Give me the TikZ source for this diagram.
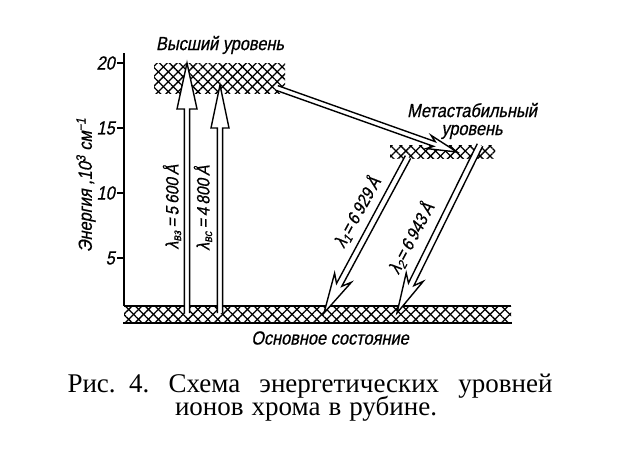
\documentclass[tikz,border=0pt]{standalone}
\usepackage{fontspec}
\setmainfont{Liberation Serif}
\newfontfamily\drawfont[FakeStretch=0.86,FakeSlant=0.2,FakeBold=0.6]{Liberation Sans}
\usetikzlibrary{calc,patterns.meta}

\tikzset{
  lvl/.style={font=\drawfont\fontsize{19}{20}\selectfont, inner sep=0pt},
  wave/.style={font=\drawfont\fontsize{18}{19}\selectfont, inner sep=0pt},
  capt/.style={font=\fontsize{27}{27}\selectfont, inner sep=0pt, anchor=base},
  hatchA/.style={pattern={Lines[angle=45,distance=7pt,line width=1.3pt]}},
  hatchB/.style={pattern={Lines[angle=-45,distance=7pt,line width=1.3pt]}},
  outline/.style={line width=1.4pt, line join=miter},
}

% hollow arrow: start, tip, head length, head half width, shaft half width, notch
\newcommand\hollowarrow[6]{%
  \coordinate (hb) at ($(#2)!#3!(#1)$);
  \coordinate (hn) at ($(#2)!#6!(#1)$);
  \filldraw[outline, fill=white]
    ($(#1)!#5!90:(#2)$) -- ($(hn)!#5!90:(#2)$) -- ($(hb)!#4!90:(#2)$) -- (#2)
    -- ($(hb)!#4!-90:(#2)$) -- ($(hn)!#5!-90:(#2)$) -- ($(#1)!#5!-90:(#2)$);
}

\begin{document}
\begin{tikzpicture}[x=1pt, y=-1pt]
    \useasboundingbox (0,0) rectangle (620,448);

    % Hatched levels
    \foreach \s in {hatchA,hatchB} {
        \fill[\s] (124,306) rectangle (511,323);
        \fill[\s] (154,63) rectangle (285,93);
        \fill[\s] (390,145) rectangle (495,158);
    }
    \draw[line width=1.4pt] (124,306) -- (511,306);
    \draw[line width=2.4pt] (123,323) -- (512,323);

    % Energy axis
    \draw[line width=1.6pt] (124,53) -- (124,306);
    \foreach \e in {5,10,15,20} {
        \draw[line width=1.4pt] (117,{323-13*\e}) -- (124,{323-13*\e});
        \node[lvl, left] (t\e) at (115,{323-13*\e}) {\e};
    }
    \node[lvl, rotate=90] (axis) at (86,185) {Энергия ,10\textsuperscript{3} см\textsuperscript{−1}};

    % Level labels
    \node[lvl] (high) at (220,45) {Высший уровень};
    \node[lvl, align=center] (meta) at (472,121) {Метастабильный\\[-2pt]уровень};
    \node[lvl] (ground) at (330,338) {Основное состояние};

    % Arrow end points
    \coordinate (a1s) at (187,313);
    \coordinate (a1t) at (187,63);
    \coordinate (a2s) at (220,313);
    \coordinate (a2t) at (220,85);
    \coordinate (ds) at (277,88);
    \coordinate (dt) at (457,152);
    \coordinate (l1s) at (408,157);
    \coordinate (l1t) at (324,313);
    \coordinate (l2s) at (480,145);
    \coordinate (l2t) at (397,313);

    % Transitions
    \hollowarrow{a1s}{a1t}{46pt}{10pt}{2.6pt}{46pt}
    \hollowarrow{a2s}{a2t}{43pt}{9pt}{2.6pt}{43pt}
    \hollowarrow{ds}{dt}{30pt}{7pt}{2.5pt}{24pt}
    \hollowarrow{l1s}{l1t}{40pt}{9.5pt}{3pt}{32pt}
    \hollowarrow{l2s}{l2t}{40pt}{9.5pt}{3pt}{32pt}

    % Wavelengths
    \node[wave, rotate=90] (w1) at (172,207) {λ\textsubscript{вз}\,=\,5\,600\,Å};
    \node[wave, rotate=90] (w2) at (203,208) {λ\textsubscript{вс}\,=\,4\,800\,Å};
    \node[wave, rotate=61] (w3) at (357,212) {λ\textsubscript{1}=\,6\,929\,Å};
    \node[wave, rotate=62] (w4) at (411,238) {λ\textsubscript{2}=\,6\,943\,Å};

    % Caption
    \node[capt] (cap1) at (310,392) {\makebox[485pt][s]{Рис.\ \ 4.\hfill Схема\hfill энергетических\hfill уровней}};
    \node[capt] (cap2) at (306,415) {\makebox[262pt][s]{ионов хрома в рубине.}};
\end{tikzpicture}
\end{document}
